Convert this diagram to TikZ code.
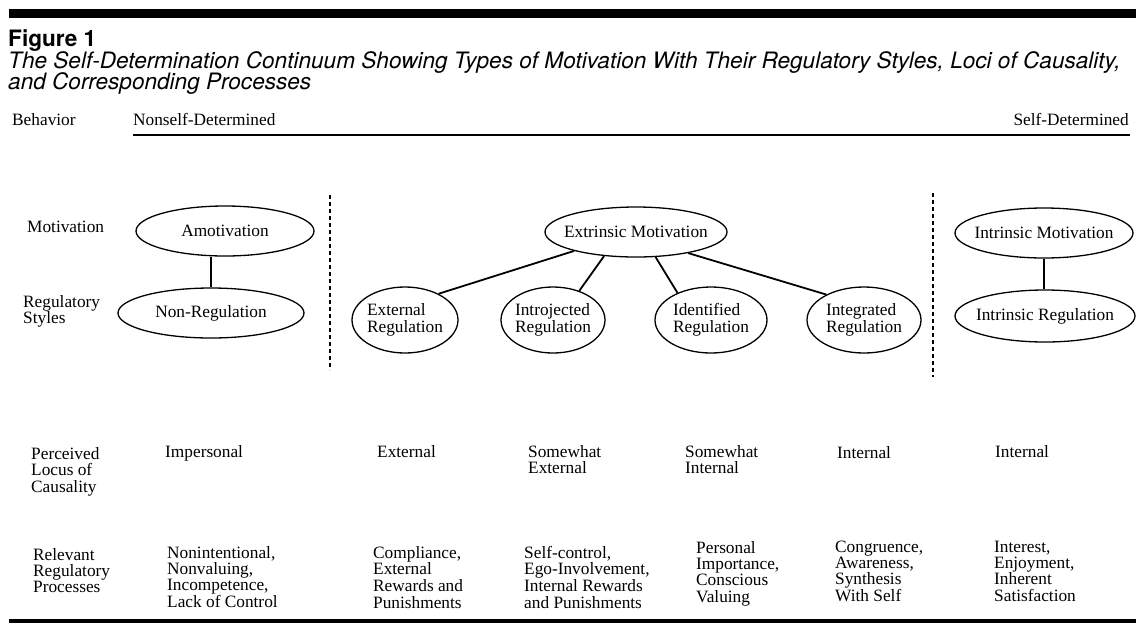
\documentclass[tikz,border=0pt]{standalone}
\usepackage{fontspec}
\setmainfont{Liberation Serif}
\newfontfamily\capfont{TeX Gyre Heros}
\usetikzlibrary{shapes.geometric, positioning}

\newcommand{\lines}[1]{\begin{tabular}[t]{@{}l@{}}#1\end{tabular}}
\newcommand{\ctr}[1]{\makebox[0pt]{#1}}

\begin{document}
\begin{tikzpicture}[x=1pt, y=-1pt,
  txt/.style={anchor=base west, inner sep=0pt, font=\fontsize{17.3}{15.8}\selectfont},
  oval/.style={ellipse, draw, line width=1.3pt, inner sep=0pt, font=\fontsize{17.3}{15.8}\selectfont},
  link/.style={line width=1.8pt},
  sep/.style={line width=1.4pt, dash pattern=on 4pt off 3pt}]
  \useasboundingbox (0,0) rectangle (1136,633);
  \fill[white] (0,0) rectangle (1136,633);
  \fill (9,9) rectangle (1136,18);
  \fill (9,619) rectangle (1136,623);
  \node[anchor=base west, inner sep=0pt, font=\capfont\fontsize{22.6}{25}\selectfont\bfseries] (fig) at (8,46) {Figure 1};
  \node[anchor=base west, inner sep=0pt, font=\capfont\fontsize{22.6}{25}\selectfont\itshape] (cap1) at (8,68) {The Self-Determination Continuum Showing Types of Motivation With Their Regulatory Styles, Loci of Causality,};
  \node[anchor=base west, inner sep=0pt, font=\capfont\fontsize{22.6}{25}\selectfont\itshape] (cap2) at (8,89) {and Corresponding Processes};
  % behavior scale
  \node[txt] (beh) at (12,125) {Behavior};
  \node[txt] (nsd) at (133,125) {Nonself-Determined};
  \node[txt, anchor=base east] (sd) at (1129,125) {Self-Determined};
  \draw[line width=1.5pt] (133,135) -- (1130,135);
  % row labels
  \node[txt] (mot) at (27,232) {Motivation};
  \node[txt] (regs) at (23,307) {\lines{Regulatory\\Styles}};
  \node[txt] (plc) at (31,459) {\lines{Perceived\\Locus of\\Causality}};
  \node[txt] (rrp) at (33,560) {\lines{Relevant\\Regulatory\\Processes}};
  % separators
  \draw[sep] (330,195) -- (330,370);
  \draw[sep] (933,193) -- (933,377);
  % ellipses
  \node[oval, minimum width=178pt, minimum height=50pt] (amot) at (225,231) {\ctr{Amotivation}};
  \node[oval, minimum width=186pt, minimum height=50pt] (nonreg) at (211,313) {\ctr{Non-Regulation}};
  \node[oval, minimum width=182pt, minimum height=50pt] (extr) at (636,232) {\ctr{Extrinsic Motivation}};
  \node[oval, minimum width=106pt, minimum height=66pt] (ext) at (405,320) {\ctr{\lines{External\\Regulation}}};
  \node[oval, minimum width=104pt, minimum height=66pt] (intro) at (553,320) {\ctr{\lines{Introjected\\Regulation}}};
  \node[oval, minimum width=112pt, minimum height=66pt] (ident) at (711,320) {\ctr{\lines{Identified\\Regulation}}};
  \node[oval, minimum width=114pt, minimum height=66pt] (integ) at (864,320) {\ctr{\lines{Integrated\\Regulation}}};
  \node[oval, minimum width=178pt, minimum height=50pt] (intrm) at (1044,233) {\ctr{Intrinsic Motivation}};
  \node[oval, minimum width=180pt, minimum height=52pt] (intrr) at (1045,316) {\ctr{Intrinsic Regulation}};
  % links
  \draw[link] (nonreg.north) -- (amot.south -| nonreg.north);
  \draw[link] (extr.197) -- (ext.38);
  \draw[link] (extr.217) -- (intro.48);
  \draw[link] (extr.308) -- (ident.141);
  \draw[link] (extr.338) -- (integ.146);
  \draw[link] (intrm.south) -- (intrm.south |- intrr.north);
  % loci of causality
  \node[txt] (loc1) at (165,457) {Impersonal};
  \node[txt] (loc2) at (377,457) {External};
  \node[txt] (loc3) at (528,457) {\lines{Somewhat\\External}};
  \node[txt] (loc4) at (685,457) {\lines{Somewhat\\Internal}};
  \node[txt] (loc5) at (837,458) {Internal};
  \node[txt] (loc6) at (995,457) {Internal};
  % processes
  \node[txt] (proc1) at (167,558) {\lines{Nonintentional,\\Nonvaluing,\\Incompetence,\\Lack of Control}};
  \node[txt] (proc2) at (373,558) {\lines{Compliance,\\External\\Rewards and\\Punishments}};
  \node[txt] (proc3) at (524,558) {\lines{Self-control,\\Ego-Involvement,\\Internal Rewards\\and Punishments}};
  \node[txt] (proc4) at (696,553) {\lines{Personal\\Importance,\\Conscious\\Valuing}};
  \node[txt] (proc5) at (835,552) {\lines{Congruence,\\Awareness,\\Synthesis\\With Self}};
  \node[txt] (proc6) at (994,552) {\lines{Interest,\\Enjoyment,\\Inherent\\Satisfaction}};
\end{tikzpicture}
\end{document}
